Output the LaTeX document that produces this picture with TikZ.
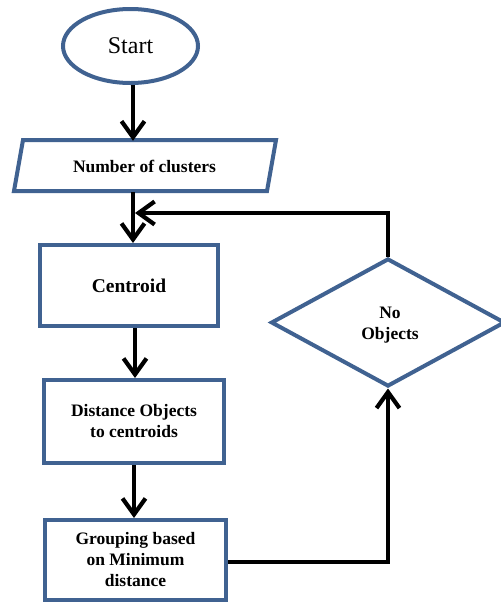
\documentclass[tikz,border=0pt]{standalone}
\usepackage{fontspec}
\setmainfont{Liberation Serif}
\usetikzlibrary{shapes.geometric,arrows.meta}
\definecolor{boxblue}{RGB}{64,98,145}
\tikzset{
  x=1pt,y=-1pt,
  box/.style={draw=boxblue,line width=4pt,fill=white,inner sep=0pt,align=center,
    font=\bfseries\fontsize{17.5}{21}\selectfont},
  flow/.style={line width=4.2pt,draw=black,-{Straight Barb[length=16pt,width=23pt,line width=4.2pt]}},
  plain/.style={line width=4pt,draw=black}
}
\begin{document}
\begin{tikzpicture}
\useasboundingbox (0,0) rectangle (501,603);
\fill[white] (0,0) rectangle (501,603);
% Start
\node[box,ellipse,minimum width=135pt,minimum height=74pt,font=\fontsize{24}{28}\selectfont] (start) at (130.5,46) {Start};
% Parallelogram
\draw[boxblue,line width=4pt,line join=miter,fill=white] (23,140) -- (276,140) -- (267,191) -- (14,191) -- cycle;
\node[inner sep=0pt,minimum width=253pt,minimum height=51pt,font=\bfseries\fontsize{17.5}{21}\selectfont] (ncl) at (144.5,166.5) {Number of clusters};
% Boxes
\node[box,rectangle,minimum width=178pt,minimum height=81pt,font=\bfseries\fontsize{19.5}{23}\selectfont] (cen) at (129,285.5) {Centroid};
\node[box,rectangle,minimum width=180pt,minimum height=83pt] (dist) at (134,421.5) {Distance Objects\\to centroids};
\node[box,rectangle,minimum width=181pt,minimum height=80pt] (grp) at (135.5,560) {Grouping based\\on Minimum\\distance};
\node[box,diamond,minimum width=234pt,minimum height=128pt] (dia) at (388,322.5) {};
\node[inner sep=0pt,align=center,font=\bfseries\fontsize{17.5}{21}\selectfont] (diatext) at (390,325) {No\\Objects};
% helper coordinates
\coordinate (c1) at (133,0);
\coordinate (c2) at (135,0);
\coordinate (c3) at (134,0);
\coordinate (ret) at (388,213);
% Connectors
\draw[flow] (c1 |- start.south) -- (c1 |- ncl.north);
\draw[flow] (c1 |- ncl.south) -- (c1 |- cen.north);
\draw[flow] (c2 |- cen.south) -- (c2 |- dist.north);
\draw[flow] (c3 |- dist.south) -- (c3 |- grp.north);
\draw[flow] (grp.east |- 0,562) -| (dia.south);
\draw[flow] (dia.north) |- (ret) -- (c2 |- ret);
\end{tikzpicture}
\end{document}
